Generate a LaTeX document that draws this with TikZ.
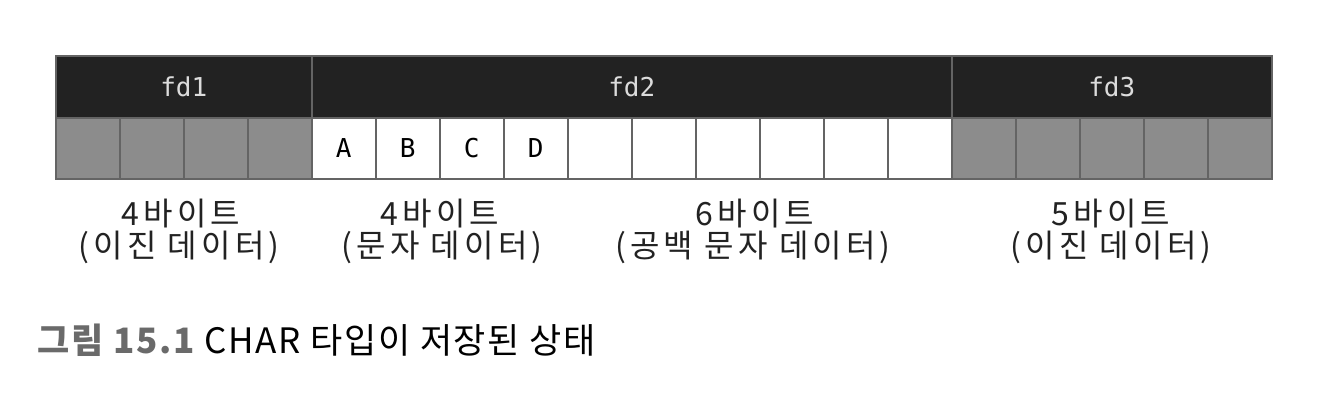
\documentclass[tikz,border=0pt]{standalone}
\usepackage{fontspec}
\newfontfamily\krcap[LetterSpace=5]{Noto Sans CJK KR}
\newfontfamily\krsp[LetterSpace=13]{Noto Sans CJK KR}
\newfontfamily\mono{DejaVu Sans Mono}
\definecolor{hdrfill}{HTML}{222222}
\definecolor{hdrtext}{HTML}{DCDCDC}
\definecolor{gridline}{HTML}{646464}
\definecolor{binfill}{HTML}{8C8C8C}
\definecolor{labtext}{HTML}{222222}
\definecolor{capgray}{HTML}{6A6A6A}
\begin{document}
\begin{tikzpicture}[x=1pt,y=-1pt,
  hdr/.style={draw=gridline, line width=1.6pt, fill=hdrfill, text=hdrtext,
    minimum height=62pt, inner sep=0pt, anchor=north west,
    font=\mono\fontsize{26}{30}\selectfont},
  cellbase/.style={draw=gridline, line width=1.6pt, minimum width=64pt,
    minimum height=61pt, inner sep=0pt, anchor=north west,
    font=\mono\fontsize{26}{30}\selectfont, text=black},
  bincell/.style={cellbase, fill=binfill},
  txtcell/.style={cellbase, fill=white},
  lab/.style={anchor=base, inner sep=0pt, text=labtext,
    font=\krsp\fontsize{32}{36}\selectfont},
  captionstyle/.style={anchor=base west, inner sep=0pt,
    font=\krcap\fontsize{35}{40}\selectfont}]
\useasboundingbox[fill=white] (0,0) rectangle (1320,410);
% headers
\node[hdr, minimum width=256pt] (fd1) at (55,55) {fd1};
\node[hdr, minimum width=640pt] (fd2) at (311,55) {fd2};
\node[hdr, minimum width=320pt] (fd3) at (951,55) {fd3};
% cells
\foreach \i in {0,...,3} {\node[bincell] (c\i) at ({55+64*\i},117) {};}
\foreach \i/\t in {4/A,5/B,6/C,7/D} {\node[txtcell] (c\i) at ({55+64*\i},117) {\t};}
\foreach \i in {8,...,13} {\node[txtcell] (c\i) at ({55+64*\i},117) {};}
\foreach \i in {14,...,18} {\node[bincell] (c\i) at ({55+64*\i},117) {};}
% labels
\node[lab] (l1a) at (181,225) {4바이트};
\node[lab] (l1b) at (179,257) {(이진 데이터)};
\node[lab] (l2a) at (440,225) {4바이트};
\node[lab] (l2b) at (442,257) {(문자 데이터)};
\node[lab] (l3a) at (755,225) {6바이트};
\node[lab] (l3b) at (753,257) {(공백 문자 데이터)};
\node[lab] (l4a) at (1111,225) {5바이트};
\node[lab] (l4b) at (1111,257) {(이진 데이터)};
% caption
\node[captionstyle] (caption) at (37,353) {\textcolor{capgray}{\bfseries 그림 15.1} CHAR 타입이 저장된 상태};
\end{tikzpicture}
\end{document}
